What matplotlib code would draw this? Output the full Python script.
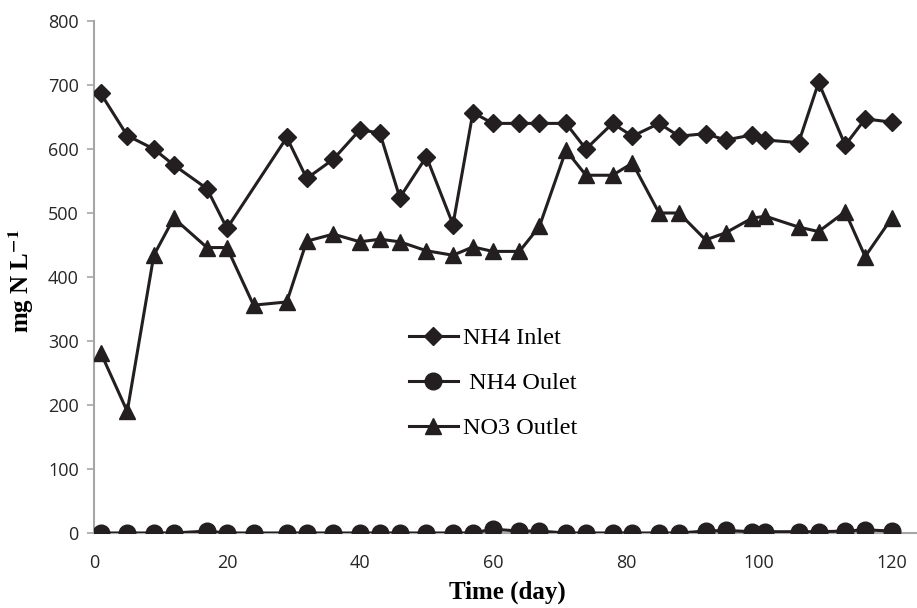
import matplotlib
matplotlib.use('Agg')
import matplotlib.pyplot as plt

# 數據
days_inlet = [1, 5, 9, 12, 17, 20, 29, 32, 36, 40, 43, 46, 50, 54, 57, 60, 64, 67,
              71, 74, 78, 81, 85, 88, 92, 95, 99, 101, 106, 109, 113, 116, 120]
nh4_inlet = [687, 621, 600, 575, 538, 476, 618, 554, 584, 630, 625, 524, 588, 482, 657, 640, 640, 640,
             640, 600, 640, 620, 640, 620, 624, 614, 622, 614, 610, 704, 606, 647, 642]

days_out = [1, 5, 9, 12, 17, 20, 24, 29, 32, 36, 40, 43, 46, 50, 54, 57, 60, 64, 67,
            71, 74, 78, 81, 85, 88, 92, 95, 99, 101, 106, 109, 113, 116, 120]
nh4_outlet = [0, 0, 0, 0, 3, 0, 0, 0, 0, 0, 0, 0, 0, 0, 0, 0, 6, 3, 3,
              0, 0, 0, 0, 0, 0, 3, 4, 2, 2, 2, 2, 3, 5, 3]
no3_outlet = [282, 190, 434, 492, 446, 446, 356, 361, 456, 467, 455, 459, 455, 441, 434, 447, 440, 440, 479,
              598, 559, 559, 578, 500, 500, 458, 469, 492, 495, 478, 471, 502, 432, 492]

line_color = '#231f20'
axis_color = '#a6a6a6'
tick_font = 'Open Sans'
serif_font = 'Liberation Serif'

plt.rcParams['mathtext.fontset'] = 'stix'

fig = plt.figure(figsize=(9.17, 6.08), dpi=100)
ax = fig.add_axes([94 / 917, 75 / 608, 1 - 94 / 917, 512 / 608])

ax.plot(days_inlet, nh4_inlet, color=line_color, lw=2.2, marker='D', markersize=9.5,
        label='NH4 Inlet')
ax.plot(days_out, nh4_outlet, color=line_color, lw=2.2, marker='o', markersize=12,
        label=' NH4 Oulet')
ax.plot(days_out, no3_outlet, color=line_color, lw=2.2, marker='^', markersize=12,
        label='NO3 Outlet')

ax.set_xlim(0, 123.8)
ax.set_ylim(0, 800)
ax.set_xticks(range(0, 121, 20))
ax.set_yticks(range(0, 801, 100))

for s in ['top', 'right']:
    ax.spines[s].set_visible(False)
for s in ['left', 'bottom']:
    ax.spines[s].set_color(axis_color)
    ax.spines[s].set_linewidth(1.5)
    ax.spines[s].set_zorder(0)

ax.tick_params(axis='y', colors=axis_color, length=5, width=1.2, labelcolor='#262626',
               labelsize=13, pad=6)
ax.tick_params(axis='x', colors=axis_color, length=0, labelcolor='#262626',
               labelsize=13, pad=15)
for lab in ax.get_xticklabels() + ax.get_yticklabels():
    lab.set_fontfamily(tick_font)

# 軸標題
fig.text(507 / 917, 1 - 592 / 608, 'Time (day)', fontfamily=serif_font, fontweight='bold',
         fontsize=18, ha='center', va='center')
fig.text(21 / 917, 1 - 281 / 608, r'mg N L$^{\mathbf{-1}}$', fontfamily=serif_font,
         fontweight='bold', fontsize=18, rotation=90, ha='center', va='center')

leg = ax.legend(loc='upper left', bbox_to_anchor=(397 / 917, 1 - 315 / 608),
                bbox_transform=fig.transFigure, frameon=False,
                prop={'family': serif_font, 'size': 17.5},
                handlelength=2.0, labelspacing=0.95, handletextpad=0.2, borderpad=0)

plt.savefig('out.png', dpi=100)
